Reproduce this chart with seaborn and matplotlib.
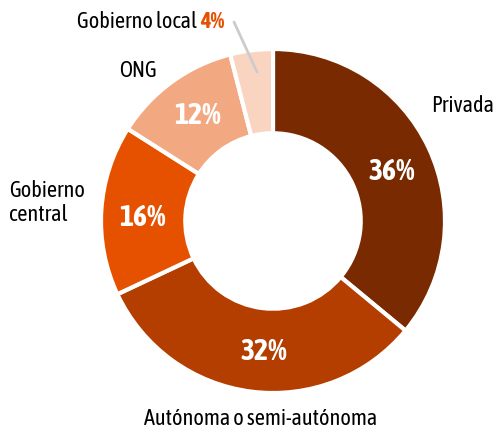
import matplotlib
matplotlib.use("Agg")
import matplotlib.pyplot as plt
from matplotlib import font_manager
import seaborn as sns

sectors = ["Privada", "Autónoma o semi-autónoma", "Gobierno central", "ONG", "Gobierno local"]
shares = [36, 32, 16, 12, 4]
colors = ["#7a2a00", "#b43e00", "#e65100", "#f2a982", "#f9d4c1"]

sns.set_theme(style="white")

# pick a narrow face if one is installed, preferring one that has a bold weight
def wt(w):
    try:
        return int(w)
    except (TypeError, ValueError):
        return 700 if "bold" in str(w).lower() else 400

narrow = {}
for f in font_manager.fontManager.ttflist:
    if "Narrow" in f.name or "Condensed" in f.name:
        narrow.setdefault(f.name, set()).add(wt(f.weight))
with_bold = sorted(n for n, w in narrow.items() if max(w) >= 600 and min(w) <= 450)
family = (with_bold or sorted(narrow) or ["Liberation Sans"])[0]
plt.rcParams['font.family'] = [family, 'DejaVu Sans']
plt.rcParams['text.color'] = 'black'

fig = plt.figure(figsize=(4.96, 4.38), dpi=100)
ax = fig.add_axes([0, 0, 1, 1])
cx, cy, r = 273, 221, 172

wedges, _ = ax.pie(shares, colors=sns.color_palette(colors), startangle=90, counterclock=False,
                   radius=1, wedgeprops=dict(width=0.49, edgecolor="white", linewidth=3))
ax.set_xlim(-cx / r, (496 - cx) / r)
ax.set_ylim(-(438 - cy) / r, cy / r)
ax.set_aspect("equal")
ax.axis("off")

def px(x, y):
    return (x - cx) / r, (cy - y) / r

fs = 16
# percentages inside the ring
for (x, y), v in zip([(392, 172), (264, 352), (142, 218), (198, 116)], shares[:4]):
    ax.text(*px(x, y), f"{v}%", color="white", fontsize=21.5, fontweight="bold", ha="center", va="center")

# outer labels
ax.text(*px(463, 106), sectors[0], fontsize=fs, ha="center", va="center")
ax.text(*px(261, 419), sectors[1], fontsize=fs, ha="center", va="center")
ax.text(*px(9, 203), "Gobierno\ncentral", fontsize=fs, ha="left", va="center", linespacing=1.15)
ax.text(*px(138, 71), sectors[3], fontsize=fs, ha="center", va="center")
t = ax.text(*px(77, 22), sectors[4] + " ", fontsize=fs, ha="left", va="center")
fig.canvas.draw()
bb = t.get_window_extent()
x_end = ax.transData.inverted().transform((bb.x1, bb.y0))[0]
ax.text(x_end, px(77, 22)[1], f"{shares[4]}%", fontsize=fs, fontweight="bold", color="#e65100",
        ha="left", va="center")
ax.plot(*zip(px(234, 22), px(257, 72)), color="#cccccc", lw=2)

fig.savefig("out.png", dpi=100)
